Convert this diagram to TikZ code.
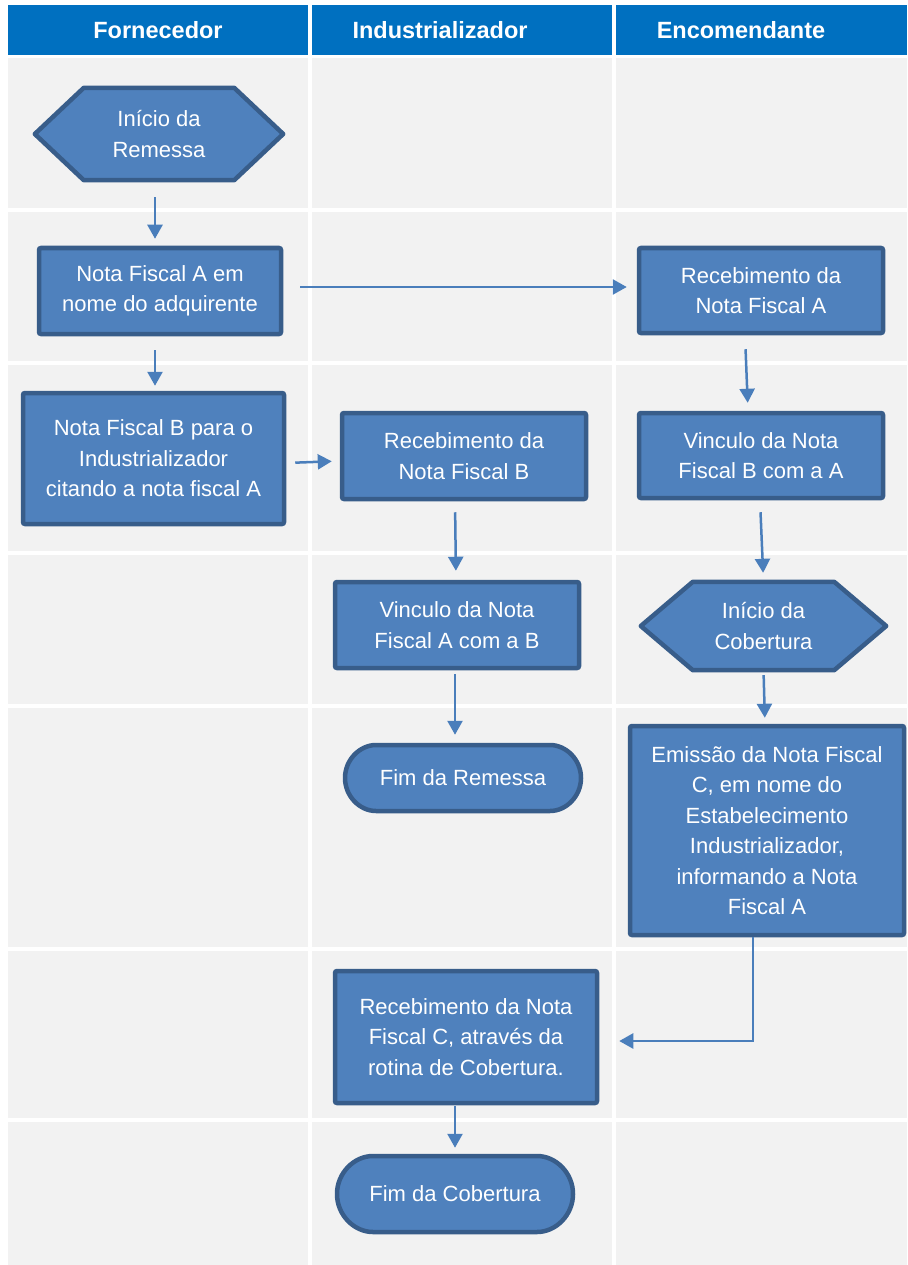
\documentclass[tikz,border=0pt]{standalone}
\usepackage{fontspec}
\setmainfont{Liberation Sans}
\usetikzlibrary{shapes.misc,arrows.meta}
\definecolor{hdr}{HTML}{0070C0}
\definecolor{cell}{HTML}{F2F2F2}
\definecolor{nfill}{HTML}{4F81BD}
\definecolor{nline}{HTML}{385D8A}
\definecolor{arr}{HTML}{4A7EBB}
\pgfdeclarelayer{back}
\pgfdeclarelayer{shapes}
\pgfsetlayers{back,shapes,main}
\begin{document}
\begin{tikzpicture}[x=1pt,y=-1pt,
  cellbox/.style={fill=cell},
  hdrbox/.style={fill=hdr},
  hdrtext/.style={text=white,font=\fontsize{23.5}{28}\selectfont\bfseries,inner sep=0pt},
  boxnode/.style={rectangle,rounded corners=2pt,fill=nfill,draw=nline,line width=4.5pt,
    text=white,align=center,font=\fontsize{22}{30.5}\selectfont,inner sep=0pt},
  endnode/.style={boxnode,rounded rectangle},
  hexnode/.style={rectangle,text=white,align=center,font=\fontsize{22}{30.5}\selectfont,inner sep=0pt},
  hexshape/.style={fill=nfill,draw=nline,line width=4.5pt,line join=round},
  flow/.style={draw=arr,line width=2.5pt,-{Triangle[length=14pt,width=15pt]}}]
\useasboundingbox (0,0) rectangle (907,1265);
\begin{pgfonlayer}{back}
\fill[white] (0,0) rectangle (907,1265);
% header
\fill[hdrbox] (8,5) rectangle (308,55);
\fill[hdrbox] (312,5) rectangle (612,55);
\fill[hdrbox] (616,5) rectangle (907,55);
% grid cells
\foreach \ya/\yb in {58/208,212/361,365/551,555/704,708/947,951/1118,1122/1265}{
  \fill[cellbox] (8,\ya) rectangle (308,\yb);
  \fill[cellbox] (312,\ya) rectangle (612,\yb);
  \fill[cellbox] (616,\ya) rectangle (907,\yb);
}
\end{pgfonlayer}
\node[hdrtext] (t1) at (158,30) {Fornecedor};
\node[hdrtext] (t2) at (440,30) {Industrializador};
\node[hdrtext] (t3) at (741,30) {Encomendante};
% nodes
\node[hexnode,minimum width=248,minimum height=92] (h1) at (159,134) {Início da\\Remessa};
\node[boxnode,minimum width=242,minimum height=86] (nA) at (160,291) {Nota Fiscal A em\\nome do adquirente};
\node[boxnode,minimum width=261,minimum height=131] (nB) at (153.5,458.5) {Nota Fiscal B para o\\Industrializador\\citando a nota fiscal A};
\node[boxnode,minimum width=244,minimum height=86] (rB) at (464,456) {Recebimento da\\Nota Fiscal B};
\node[boxnode,minimum width=244,minimum height=85] (rA) at (761,290.5) {Recebimento da\\Nota Fiscal A};
\node[boxnode,minimum width=244,minimum height=85] (vBA) at (761,455.5) {Vinculo da Nota\\Fiscal B com a A};
\node[boxnode,minimum width=244,minimum height=86] (vAB) at (457,625) {Vinculo da Nota\\Fiscal A com a B};
\node[hexnode,minimum width=245,minimum height=88] (h2) at (763.5,626) {Início da\\Cobertura};
\node[endnode,minimum width=236,minimum height=66] (fR) at (463,778) {Fim da Remessa};
\node[boxnode,minimum width=274,minimum height=209] (eC) at (767,830.5) {Emissão da Nota Fiscal\\C, em nome do\\Estabelecimento\\Industrializador,\\informando a Nota\\Fiscal A};
\node[boxnode,minimum width=262,minimum height=132] (rC) at (466,1037) {Recebimento da Nota\\Fiscal C, através da\\rotina de Cobertura.};
\node[endnode,minimum width=236,minimum height=76] (fC) at (455,1194) {Fim da Cobertura};
% hexagon outlines
\begin{pgfonlayer}{shapes}
\draw[hexshape] (h1.west) -- ([xshift=49]h1.north west) -- ([xshift=-49]h1.north east) -- (h1.east) -- ([xshift=-49]h1.south east) -- ([xshift=49]h1.south west) -- cycle;
\draw[hexshape] (h2.west) -- ([xshift=52]h2.north west) -- ([xshift=-52]h2.north east) -- (h2.east) -- ([xshift=-52]h2.south east) -- ([xshift=52]h2.south west) -- cycle;
\end{pgfonlayer}
% connectors
\draw[flow,shorten <=17,shorten >=7] ([xshift=-4]h1.south) -- ([xshift=-5]nA.north);
\draw[flow,shorten <=14,shorten >=5] ([xshift=-5]nA.south) -- ([xshift=1.5]nB.north);
\draw[flow,shorten <=17,shorten >=10] ([yshift=4]nA.east) -- ([yshift=3.5]rA.west);
\draw[flow,shorten <=9,shorten >=8] ([yshift=-4.5]nB.east) -- ([yshift=-5]rB.west);
\draw[flow,shorten <=14,shorten >=8] ([xshift=-16]rA.south) -- ([xshift=-13]vBA.north);
\draw[flow,shorten <=11,shorten >=9] ([xshift=-9]rB.south) -- ([xshift=-1]vAB.north);
\draw[flow,shorten <=12,shorten >=9] ([xshift=-1]vBA.south) -- ([xshift=0]h2.north);
\draw[flow,shorten <=4,shorten >=8] ([xshift=-2]vAB.south) -- ([xshift=-8]fR.north);
\draw[flow,shorten <=5,shorten >=6] (h2.south) -- ([xshift=-2]eC.north);
\draw[flow,shorten >=20] ([xshift=-14]eC.south) |- ([yshift=-4]rC.east);
\draw[flow,shorten <=1,shorten >=6] ([xshift=-11]rC.south) -- (fC.north);
\end{tikzpicture}
\end{document}
